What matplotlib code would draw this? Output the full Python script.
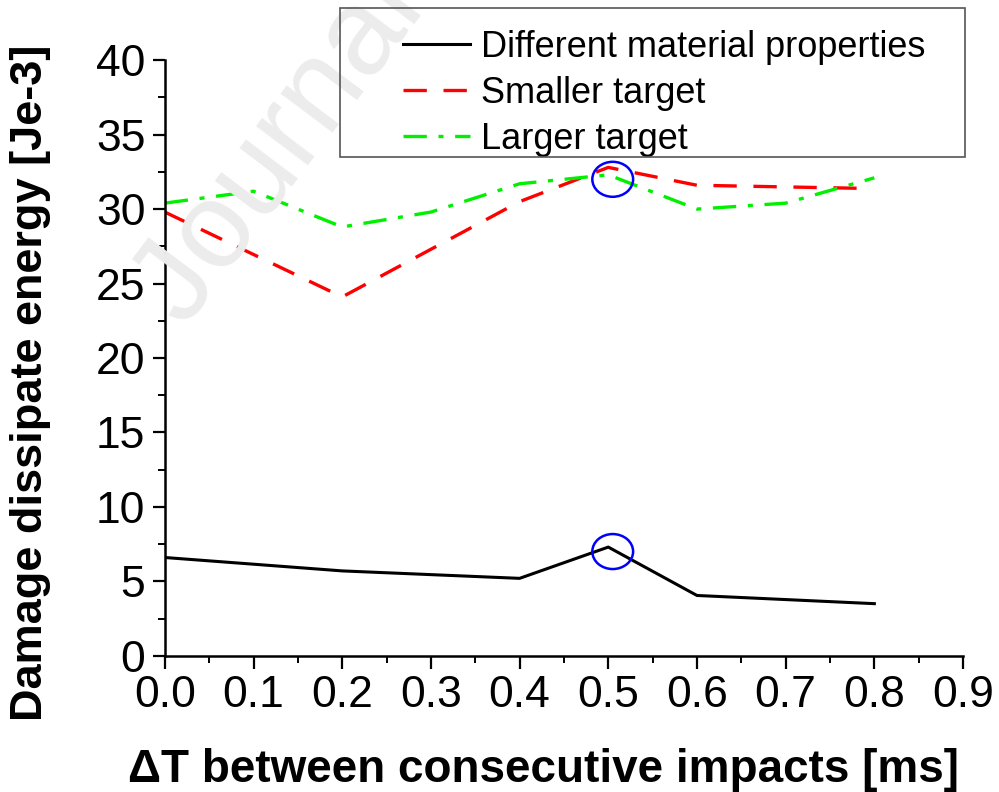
import matplotlib
matplotlib.use("Agg")
import matplotlib.pyplot as plt
from matplotlib.patches import Ellipse, Rectangle
from matplotlib.ticker import MultipleLocator

plt.rcParams['font.family'] = ['Liberation Sans', 'DejaVu Sans']

# data
x_material = [0.0, 0.2, 0.4, 0.5, 0.6, 0.8]
y_material = [6.6, 5.7, 5.2, 7.3, 4.05, 3.5]

x_smaller = [0.0, 0.2, 0.4, 0.5, 0.6, 0.78]
y_smaller = [29.8, 24.1, 30.5, 32.8, 31.6, 31.4]

x_larger = [0.0, 0.1, 0.2, 0.3, 0.4, 0.5, 0.6, 0.7, 0.8]
y_larger = [30.4, 31.2, 28.8, 29.8, 31.7, 32.3, 30.0, 30.4, 32.1]

circle_centers = [(0.505, 32.0), (0.505, 7.0)]

W, H = 999, 792
fig = plt.figure(figsize=(W / 100, H / 100), dpi=100)
ax = fig.add_axes([0.165, 0.172, 0.799, 0.752])

# faint watermark
fig.text(0.185, 0.585, 'Journal Pre-proof', fontsize=88, color='#ececec',
         rotation=53, rotation_mode='anchor', ha='left', va='baseline', zorder=0)
ax.patch.set_alpha(0)

ax.plot(x_material, y_material, color='black', lw=2.2, label='Different material properties')
ax.plot(x_smaller, y_smaller, color='#ff0000', lw=2.4, dashes=(7, 5), label='Smaller target')
ax.plot(x_larger, y_larger, color='#00f000', lw=2.4, dashes=(7, 3.5, 1.5, 3.5), label='Larger target')

for cx, cy in circle_centers:
    ax.add_patch(Ellipse((cx, cy), 0.046, 2.35, fill=False, edgecolor='#0000ff', lw=1.8, zorder=5))

ax.set_xlim(0, 0.9)
ax.set_ylim(0, 40)
ax.xaxis.set_major_locator(MultipleLocator(0.1))
ax.xaxis.set_minor_locator(MultipleLocator(0.05))
ax.yaxis.set_major_locator(MultipleLocator(5))
ax.yaxis.set_minor_locator(MultipleLocator(2.5))
ax.xaxis.set_major_formatter(matplotlib.ticker.FormatStrFormatter('%.1f'))

for side in ['top', 'right']:
    ax.spines[side].set_visible(False)
for side in ['left', 'bottom']:
    ax.spines[side].set_linewidth(1.8)

ax.tick_params(which='major', direction='out', length=9, width=1.6, labelsize=32, pad=5)
ax.tick_params(which='minor', direction='out', length=5, width=1.4)

ax.set_xlabel('ΔT between consecutive impacts [ms]', fontsize=33, fontweight='bold')
ax.set_ylabel('Damage dissipate energy [Je-3]', fontsize=32.5, fontweight='bold')
ax.xaxis.set_label_coords(0.475, -0.155)
ax.yaxis.set_label_coords(-0.142, 0.458)

# legend with a hand-placed frame like the original
leg = ax.legend(loc='upper left', bbox_to_anchor=(403 / W, 1 - 30 / H), bbox_transform=fig.transFigure,
                fontsize=26, frameon=False, handlelength=1.85,
                borderpad=0, labelspacing=0.3, handletextpad=0.3, borderaxespad=0)
fig.patches.append(Rectangle((340 / W, 1 - 157 / H), 625 / W, 149 / H, transform=fig.transFigure,
                             fill=False, edgecolor='#555555', lw=1.2, zorder=3))

fig.savefig('out.png', dpi=100)
